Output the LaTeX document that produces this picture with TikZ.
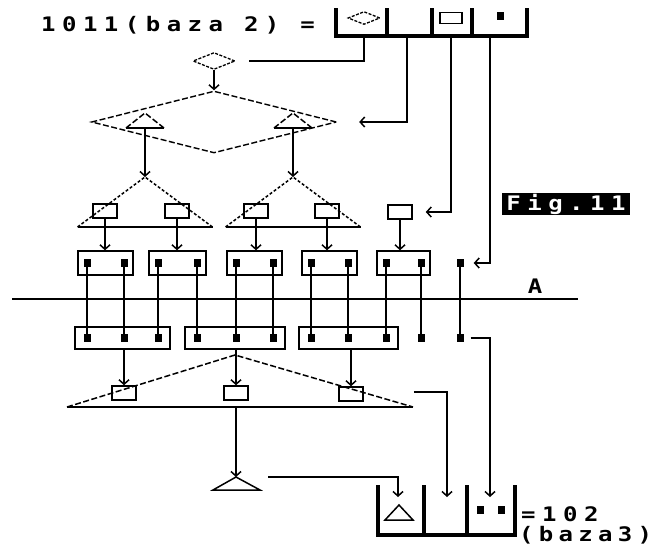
\documentclass[tikz,border=0pt]{standalone}
\usepackage{fontspec}
\setmonofont{DejaVu Sans Mono}
\usepackage{tikz}
\usetikzlibrary{arrows.meta,positioning,shapes.geometric,fit,calc}

\begin{document}
\begin{tikzpicture}[
  x=1pt, y=-1pt,
  >={Straight Barb[length=4.5pt,width=10pt]},
  pixfont/.style={font=\fontsize{20}{20}\selectfont\ttfamily\bfseries\addfontfeatures{LetterSpace=27},
    xscale=1.2},
  tightfont/.style={font=\fontsize{20}{20}\selectfont\ttfamily\bfseries\addfontfeatures{LetterSpace=22},
    xscale=1.2},
  wire/.style={line width=1.5pt},
  wirearrow/.style={wire, ->},
  regwall/.style={line width=3.5pt, line join=miter},
  dashside/.style={line width=1.5pt, dash pattern=on 6pt off 2.5pt},
  solidbase/.style={line width=1.9pt},
  dotsq/.style={fill=black, minimum width=7pt, minimum height=8pt, inner sep=0pt},
  smallrect/.style={draw, line width=1.5pt, minimum width=24pt, minimum height=14pt, inner sep=0pt},
  bin/.style={draw, line width=2pt, inner xsep=5.5pt, inner ysep=7.5pt},
  widebin/.style={draw, line width=2pt, inner xsep=8pt, inner ysep=7pt},
  bigdiamond/.style={diamond, draw, line width=1.4pt, dash pattern=on 6pt off 2.5pt,
    inner sep=0pt, minimum width=245pt, minimum height=62pt},
  smalldiamond/.style={diamond, draw, line width=1.3pt, dash pattern=on 3pt off 1.5pt,
    inner sep=0pt, minimum width=42pt, minimum height=17pt}
]
  \fill[white] (0,0) rectangle (665,546);
  \useasboundingbox (0,0) rectangle (665,546);

  % --- top register: 1011 in base 2 ---
  \node[pixfont, anchor=west, inner sep=0pt] (title) at (41,25) {1011(baza 2) =};
  \draw[regwall] (336,8) -- (336,36) -- (527,36) -- (527,8);
  \foreach \x in {387,432,472}
    \draw[regwall] (\x,8) -- (\x,36);
  \node[smalldiamond, minimum width=32pt, minimum height=13pt] (rd) at (364,18) {};
  \node[smallrect, minimum width=22pt, minimum height=11pt] (rr) at (451,18) {};
  \node[dotsq] (rs) at (500,16) {};
  \coordinate (regb) at (0,36);
  \coordinate (r2) at (407,36);
  \coordinate (r4) at (490,36);

  \node[fill=black, text=white, pixfont, minimum width=107pt, minimum height=22pt, inner sep=0pt] (fig) at (566,204) {Fig.11};

  % --- first level: the big diamond ---
  \node[smalldiamond] (topd) at (214,61) {};
  \node[bigdiamond] (bigd) at (214,122) {};
  \draw[wirearrow] (topd.south) -- (bigd.north);
  \coordinate (t1) at (145,128);
  \coordinate (t2) at (293,128);
  \foreach \t in {t1,t2}{
    \draw[dashside] ($(\t)+(-19,0)$) -- ($(\t)+(0,-15)$) -- ($(\t)+(19,0)$);
    \draw[solidbase] ($(\t)+(-19,0)$) -- ($(\t)+(19,0)$);
  }

  % --- second level: two triangles and the lone rectangle ---
  \coordinate (u1) at (145,177);
  \coordinate (u2) at (293,177);
  \draw[wirearrow] (t1) -- (u1);
  \draw[wirearrow] (t2) -- (u2);
  \foreach \u in {u1,u2}{
    \draw[dashside, dash pattern=on 3pt off 2pt] ($(\u)+(-67.5,50)$) -- (\u) -- ($(\u)+(67.5,50)$);
    \draw[solidbase] ($(\u)+(-67.5,50)$) -- ($(\u)+(67.5,50)$);
  }
  \node[smallrect] (q1) at (105,211) {};
  \node[smallrect] (q2) at (177,211) {};
  \node[smallrect] (q3) at (256,211) {};
  \node[smallrect] (q4) at (327,211) {};
  \node[smallrect] (q5) at (400,212) {};

  % --- squares above and below line A ---
  \foreach \x [count=\i] in {87,124,158,197,236,273,311,348,386,421,460}{
    \node[dotsq] (a\i) at (\x,263) {};
    \node[dotsq] (b\i) at (\x,338) {};
    \draw[wire] (a\i) -- (b\i);
  }
  \node[bin, fit=(a1)(a2)] (bin1) {};
  \node[bin, fit=(a3)(a4)] (bin2) {};
  \node[bin, fit=(a5)(a6)] (bin3) {};
  \node[bin, fit=(a7)(a8)] (bin4) {};
  \node[bin, fit=(a9)(a10)] (bin5) {};
  \node[widebin, fit=(b1)(b3)] (low1) {};
  \node[widebin, fit=(b4)(b6)] (low2) {};
  \node[widebin, fit=(b7)(b9)] (low3) {};

  \draw[wirearrow] (q1.south) -- (q1 |- bin1.north);
  \draw[wirearrow] (q2.south) -- (q2 |- bin2.north);
  \draw[wirearrow] (q3.south) -- (q3 |- bin3.north);
  \draw[wirearrow] (q4.south) -- (q4 |- bin4.north);
  \draw[wirearrow] (q5.south) -- (q5 |- bin5.north);

  \draw[line width=1.7pt] (12,299) coordinate (la) -- (578,299) coordinate (lb);
  \node[pixfont, inner sep=0pt] (lblA) at (535,286) {A};

  % --- register lines into the levels ---
  \draw[wire] (rd |- regb) |- ([xshift=13pt]topd.east);
  \draw[wirearrow, shorten >=22pt] (r2) |- (bigd.east);
  \draw[wirearrow, shorten >=13pt] (rr |- regb) |- (q5.east);
  \draw[wirearrow, shorten >=10pt] (r4) |- (a11.east);

  % --- third level: the wide triangle ---
  \coordinate (v) at (235,355);
  \draw[dashside] ($(v)+(-168,52)$) -- (v) -- ($(v)+(178,52)$);
  \draw[solidbase] ($(v)+(-168,52)$) coordinate (vl) -- ($(v)+(178,52)$) coordinate (vr);
  \node[smallrect] (w1) at (124,393) {};
  \node[smallrect] (w2) at (236,393) {};
  \node[smallrect] (w3) at (351,394) {};
  \draw[wirearrow] (w1 |- low1.south) -- (w1.north);
  \draw[wirearrow] (w2 |- low2.south) -- (w2.north);
  \draw[wirearrow] (w3 |- low3.south) -- (w3.north);

  \coordinate (s) at (236,477);
  \draw[wirearrow] (w2 |- vl) -- (s);
  \draw[line width=1.5pt] (213,490) -- (s) -- (260,490) -- cycle;

  % --- result register: 102 in base 3 ---
  \draw[regwall] (378,485) -- (378,535) -- (515,535) -- (515,485);
  \foreach \x in {424,467}
    \draw[regwall] (\x,485) -- (\x,535);
  \coordinate (c1) at (398,497);
  \coordinate (c2) at (447,497);
  \coordinate (c3) at (490,497);
  \coordinate (sout) at ($(s)+(32,0)$);
  \coordinate (w3out) at ($(w3.east)+(50,-2)$);
  \draw[wirearrow] (sout) -| (c1);
  \draw[wirearrow] (w3out) -| (c2);
  \draw[wirearrow, shorten <=7pt] (b11.east) -| (c3);

  \draw[line width=1.5pt] (385,520) -- (399,505) -- (413,520) -- cycle;
  \node[dotsq] (e1) at (480,510) {};
  \node[dotsq] (e2) at (501,510) {};
  \node[pixfont, anchor=west, inner sep=0pt] (res) at (521,514) {=102};
  \node[tightfont, anchor=west, inner sep=0pt] (base3) at (519,535) {(baza3)};
\end{tikzpicture}
\end{document}
